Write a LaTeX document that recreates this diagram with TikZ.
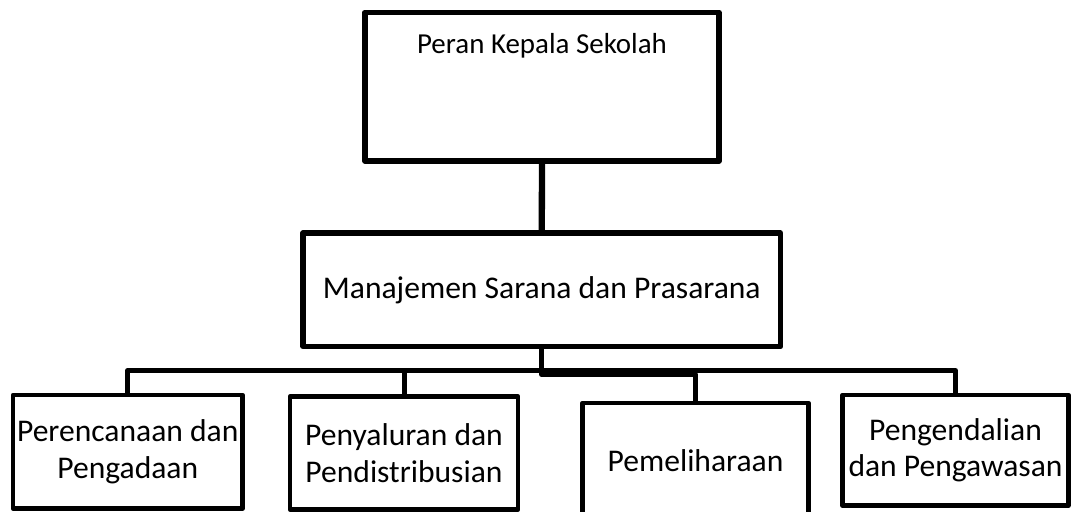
\documentclass[tikz,border=0pt]{standalone}
\usepackage{fontspec}
\setmainfont{Carlito}
\tikzset{
  kotak/.style={draw, line width=1.8pt, line join=round, inner sep=0pt, align=center, font=\fontsize{12}{14}\selectfont},
  garis/.style={line width=1.9pt, line join=round},
}
\begin{document}
\begin{tikzpicture}[x=0.38pt,y=-0.38pt]
\useasboundingbox (0,0) rectangle (1071,511);
%
\node[kotak, line width=2.2pt, font=\fontsize{11}{13}\selectfont, minimum width=134.5pt, text height=15.4pt, text depth=41pt] (kepala) at (542,86.75) {Peran Kepala Sekolah};
\node[kotak, line width=2pt, minimum width=181.5pt, minimum height=43.1pt] (manajemen) at (541.75,289.75) {Manajemen Sarana dan Prasarana};
%
\node[kotak, minimum width=87.2pt, minimum height=43.1pt] (perencanaan) at (127.75,451.75) {Perencanaan dan\\Pengadaan};
\node[kotak, minimum width=86.6pt, minimum height=42.9pt] (penyaluran) at (404,453) {Penyaluran dan\\Pendistribusian};
\node[kotak, minimum width=85.9pt, minimum height=44pt] (pemeliharaan) at (695.5,461) {Pemeliharaan};
\node[kotak, minimum width=85.7pt, minimum height=42pt] (pengendalian) at (955.5,450.25) {Pengendalian\\dan Pengawasan};
%
\coordinate (bus) at (541.75,370.5);
\coordinate (bus2) at (541.75,374.5);
%
\draw[garis, line width=2.4pt] (kepala.south) -- (manajemen.north);
\draw[garis] (manajemen.south) -- (bus) -| (perencanaan.north);
\draw[garis] (bus) -| (penyaluran.north);
\draw[garis] (bus) -| (pengendalian.north);
\draw[garis] (manajemen.south) -- (bus2) -| (pemeliharaan.north);
%
\end{tikzpicture}
\end{document}
